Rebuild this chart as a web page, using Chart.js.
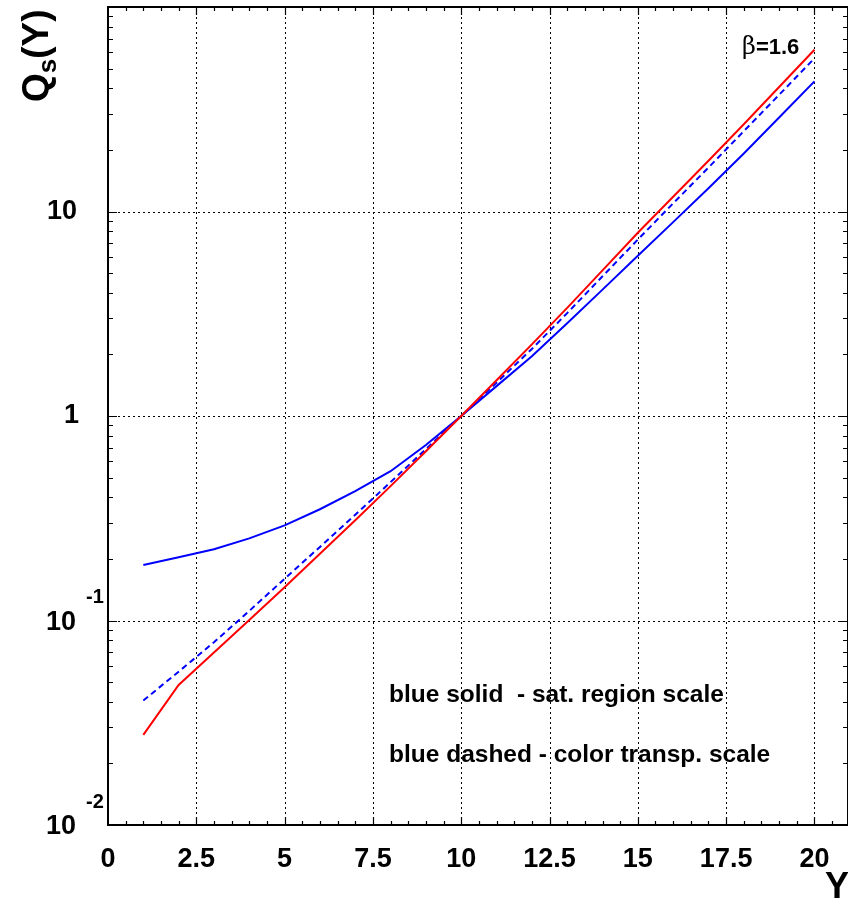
<!DOCTYPE html>
<html>
<head>
<meta charset="utf-8">
<script src="https://cdn.jsdelivr.net/npm/chart.js@4.4.1/dist/chart.umd.min.js"></script>
<style>
  html, body { margin: 0; padding: 0; background: #fff; }
  #wrap { width: 848px; height: 902px; position: relative; }
</style>
</head>
<body>
<div id="wrap"><canvas id="grafico"></canvas></div>
<script>
// rapidity values Y
const rapidez = [1, 2, 3, 4, 5, 6, 7, 8, 9, 10, 11, 12, 13, 14, 15, 16, 17, 18, 19, 20];

// red solid curve
const qsVermelho = [0.0276, 0.0484, 0.0697, 0.1005, 0.1455, 0.212, 0.309, 0.454, 0.673, 1,
  1.496, 2.239, 3.38, 5.15, 7.87, 11.8, 17.7, 26.7, 40.6, 61.8];

// blue solid - sat. region scale
const qsAzulSolido = [0.187, 0.204, 0.223, 0.252, 0.292, 0.350, 0.429, 0.537, 0.721, 1,
  1.40, 1.96, 2.84, 4.15, 6.08, 8.87, 13.0, 19.2, 28.8, 43.3];

// blue dashed - color transp. scale
const qsAzulTracejado = [0.0406, 0.0562, 0.0783, 0.1114, 0.160, 0.229, 0.329, 0.475, 0.689, 1,
  1.455, 2.128, 3.184, 4.82, 7.29, 10.96, 16.4, 24.7, 37.2, 56.1];

// ticks
const ticksX = [0, 2.5, 5, 7.5, 10, 12.5, 15, 17.5, 20];
const expoentesY = [-2, -1, 0, 1];

const FONTE = '"Liberation Sans", Arial, Helvetica, sans-serif';

function pares(ys) {
  return rapidez.map((x, i) => ({ x: x, y: ys[i] }));
}

// grid, frame, ticks and labels
const moldura = {
  id: 'moldura',
  beforeDatasetsDraw(chart) {
    const { ctx, chartArea: a, scales: { x, y } } = chart;
    ctx.save();
    ctx.strokeStyle = '#000';
    ctx.lineWidth = 1;
    ctx.setLineDash([2, 3]);
    ticksX.forEach(v => {
      if (v === 0) return;
      const px = Math.round(x.getPixelForValue(v)) + 0.5;
      ctx.beginPath(); ctx.moveTo(px, a.top); ctx.lineTo(px, a.bottom); ctx.stroke();
    });
    expoentesY.forEach(e => {
      if (e === -2) return;
      const py = Math.round(y.getPixelForValue(Math.pow(10, e))) + 0.5;
      ctx.beginPath(); ctx.moveTo(a.left, py); ctx.lineTo(a.right, py); ctx.stroke();
    });
    ctx.restore();
  },
  afterDatasetsDraw(chart) {
    const { ctx, chartArea: a, scales: { x, y } } = chart;
    ctx.save();
    ctx.strokeStyle = '#000';
    ctx.lineWidth = 2;
    ctx.setLineDash([]);
    ctx.strokeRect(a.left, a.top, a.right - a.left, a.bottom - a.top);

    // x minor ticks every 0.5
    ctx.lineWidth = 1.2;
    for (let v = 0.5; v < 20.9; v += 0.5) {
      const px = Math.round(x.getPixelForValue(v)) + 0.5;
      const len = (v % 2.5 === 0) ? 8 : 4;
      ctx.beginPath();
      ctx.moveTo(px, a.bottom); ctx.lineTo(px, a.bottom - len);
      ctx.moveTo(px, a.top); ctx.lineTo(px, a.top + len);
      ctx.stroke();
    }
    // y minor ticks
    for (let e = -2; e < 2; e++) {
      for (let m = 1; m <= 9; m++) {
        const val = m * Math.pow(10, e);
        const py = Math.round(y.getPixelForValue(val)) + 0.5;
        const len = m === 1 ? 9 : 5;
        ctx.beginPath();
        ctx.moveTo(a.left, py); ctx.lineTo(a.left + len, py);
        ctx.moveTo(a.right, py); ctx.lineTo(a.right - len, py);
        ctx.stroke();
      }
    }

    // y tick labels
    ctx.fillStyle = '#000';
    ctx.textBaseline = 'middle';
    expoentesY.forEach(e => {
      const py = y.getPixelForValue(Math.pow(10, e));
      ctx.font = 'bold 27px ' + FONTE;
      ctx.textAlign = 'right';
      if (e === 0) {
        ctx.fillText('1', 79, py);
      } else if (e === 1) {
        ctx.fillText('10', 77, py);
      } else {
        ctx.fillText('10', 76, py + 2);
        ctx.font = 'bold 20px ' + FONTE;
        ctx.textAlign = 'left';
        ctx.fillText(String(e), 86, py - 23);
      }
    });

    // axis titles
    ctx.font = 'bold 36px ' + FONTE;
    ctx.textAlign = 'center';
    ctx.textBaseline = 'alphabetic';
    ctx.fillText('Y', 837, 898);

    ctx.save();
    ctx.translate(48, 102);
    ctx.rotate(-Math.PI / 2);
    ctx.textAlign = 'left';
    ctx.font = 'bold 37px ' + FONTE;
    ctx.fillText('Q', 0, 0);
    let w = ctx.measureText('Q').width;
    ctx.font = 'bold 26px ' + FONTE;
    ctx.fillText('s', w, 8);
    w += ctx.measureText('s').width;
    ctx.font = 'bold 37px ' + FONTE;
    ctx.fillText('(Y)', w, 0);
    ctx.restore();

    // annotations
    ctx.textAlign = 'left';
    ctx.font = '24px "DejaVu Serif", serif';
    ctx.fillText('β', 742, 54);
    let bw = ctx.measureText('β').width;
    ctx.font = 'bold 22px ' + FONTE;
    ctx.fillText('=1.6', 742 + bw, 54);

    ctx.font = 'bold 24.5px ' + FONTE;
    ctx.fillText('blue solid  - sat. region scale', 389, 702);
    ctx.fillText('blue dashed - color transp. scale', 389, 762);
    ctx.restore();
  }
};

const grafico = new Chart(document.getElementById('grafico'), {
  type: 'scatter',
  data: {
    datasets: [
      {
        label: 'red',
        data: pares(qsVermelho),
        showLine: true,
        borderColor: '#ff0000',
        borderWidth: 2,
        pointRadius: 0,
        tension: 0
      },
      {
        label: 'blue solid',
        data: pares(qsAzulSolido),
        showLine: true,
        borderColor: '#0000ff',
        borderWidth: 2,
        pointRadius: 0,
        tension: 0
      },
      {
        label: 'blue dashed',
        data: pares(qsAzulTracejado),
        showLine: true,
        borderColor: '#0000ff',
        borderWidth: 2,
        borderDash: [6, 4],
        pointRadius: 0,
        tension: 0
      }
    ]
  },
  options: {
    responsive: true,
    maintainAspectRatio: false,
    animation: false,
    layout: { padding: { top: 7, right: 0, left: 0, bottom: 0 } },
    plugins: {
      legend: { display: false },
      tooltip: { enabled: false }
    },
    scales: {
      x: {
        type: 'linear',
        min: 0,
        max: 20.95,
        afterBuildTicks: (s) => { s.ticks = ticksX.map(v => ({ value: v })); },
        afterFit: (s) => { s.height = 77; },
        grid: { display: false },
        border: { display: false },
        ticks: {
          color: '#000',
          padding: 10,
          maxRotation: 0,
          font: { family: FONTE, size: 27, weight: 'bold' },
          callback: (v) => String(v)
        }
      },
      y: {
        type: 'logarithmic',
        min: 0.01,
        max: 100,
        afterFit: (s) => { s.width = 108; },
        grid: { display: false },
        border: { display: false },
        ticks: { display: false }
      }
    }
  },
  plugins: [moldura]
});
</script>
</body>
</html>
